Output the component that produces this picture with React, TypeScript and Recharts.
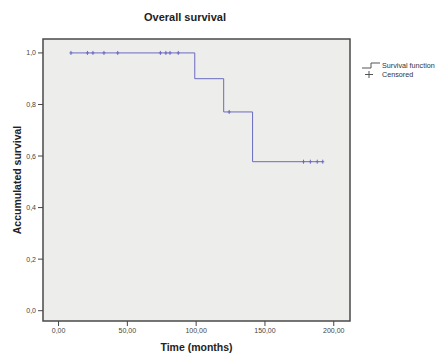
import React from 'react';
import {
  ComposedChart,
  Line,
  Scatter,
  XAxis,
  YAxis,
  ReferenceArea,
  Label,
} from 'recharts';

// Kaplan-Meier steps (time in months, accumulated survival)
const survTimes = [9, 99, 120, 141, 192];
const survValues = [1, 0.9, 0.771, 0.578, 0.578];

// censored cases
const censorTimes = [9, 21, 25, 33, 43, 74, 78, 81, 87, 124, 178, 183, 188, 192];
const censorValues = [1, 1, 1, 1, 1, 1, 1, 1, 1, 0.771, 0.578, 0.578, 0.578, 0.578];

const xTicks = [0, 50, 100, 150, 200];
const yTicks = [0, 0.2, 0.4, 0.6, 0.8, 1.0];

const X_DOMAIN: [number, number] = [-11.3, 211.8];
const Y_DOMAIN: [number, number] = [-0.04, 1.054];

const LINE_COLOR = '#6b6bc0';
const FONT = '"Liberation Sans", Arial, sans-serif';

const survData = survTimes.map((t, i) => ({ t, s: survValues[i] }));
const censorData = censorTimes.map((t, i) => ({ t, s: censorValues[i] }));

const fmt = (v: number, d: number) => v.toFixed(d).replace('.', ',');

function CensorMark(props: any) {
  const { cx, cy } = props;
  if (cx == null || cy == null) return null;
  return (
    <g stroke={LINE_COLOR} strokeWidth={1}>
      <line x1={cx} x2={cx} y1={cy - 2} y2={cy + 2} />
      <line x1={cx - 1.5} x2={cx + 1.5} y1={cy} y2={cy} />
    </g>
  );
}

export default function App() {
  const tick = { fontSize: 7, fill: '#444', fontFamily: FONT };
  return (
    <div
      style={{
        position: 'absolute',
        left: 0,
        top: 0,
        width: 440,
        height: 355,
        background: '#fff',
        fontFamily: FONT,
        overflow: 'hidden',
      }}
    >
      <div
        style={{
          position: 'absolute',
          left: 0,
          width: 370,
          top: 11,
          textAlign: 'center',
          fontWeight: 'bold',
          fontSize: 11,
          color: '#222',
        }}
      >
        Overall survival
      </div>
      <ComposedChart
        width={440}
        height={355}
        margin={{ top: 39, right: 90, bottom: 0, left: 0 }}
      >
        <XAxis
          type="number"
          dataKey="t"
          domain={X_DOMAIN}
          ticks={xTicks}
          allowDataOverflow
          tickFormatter={(v) => fmt(v, 2)}
          tick={tick}
          tickSize={5}
          tickLine={{ stroke: '#444' }}
          axisLine={false}
          height={34}
          interval={0}
        >
          <Label
            value="Time (months)"
            position="insideBottom"
            offset={4}
            style={{ fontSize: 10.5, fontWeight: 'bold', fill: '#222', fontFamily: FONT }}
          />
        </XAxis>
        <YAxis
          type="number"
          dataKey="s"
          domain={Y_DOMAIN}
          ticks={yTicks}
          allowDataOverflow
          tickFormatter={(v) => fmt(v, 1)}
          tick={tick}
          tickSize={5}
          tickLine={{ stroke: '#444' }}
          axisLine={false}
          width={43}
          interval={0}
        >
          <Label
            value="Accumulated survival"
            angle={-90}
            position="insideLeft"
            offset={17}
            style={{
              fontSize: 10.5,
              fontWeight: 'bold',
              fill: '#222',
              fontFamily: FONT,
              textAnchor: 'middle',
            }}
          />
        </YAxis>
        <ReferenceArea
          x1={X_DOMAIN[0]}
          x2={X_DOMAIN[1]}
          y1={Y_DOMAIN[0]}
          y2={Y_DOMAIN[1]}
          fill="#ededeb"
          fillOpacity={1}
          stroke="#4a4a4a"
          strokeWidth={1.5}
          ifOverflow="visible"
        />
        <Line
          data={survData}
          dataKey="s"
          type="stepAfter"
          stroke={LINE_COLOR}
          strokeWidth={1}
          dot={false}
          isAnimationActive={false}
        />
        <Scatter
          data={censorData}
          dataKey="s"
          shape={<CensorMark />}
          isAnimationActive={false}
        />
      </ComposedChart>
      <div
        style={{
          position: 'absolute',
          left: 362,
          top: 61,
          fontSize: 7.2,
          color: '#333',
          lineHeight: '9px',
          whiteSpace: 'nowrap',
        }}
      >
        <div style={{ display: 'flex', alignItems: 'center' }}>
          <svg width={20} height={9}>
            <polyline points="0,7 9,7 9,2 18,2" fill="none" stroke="#555" strokeWidth={1} />
          </svg>
          <span>Survival function</span>
        </div>
        <div style={{ display: 'flex', alignItems: 'center' }}>
          <svg width={20} height={9}>
            <line x1={7} x2={7} y1={1} y2={8} stroke="#555" />
            <line x1={3} x2={11} y1={4.5} y2={4.5} stroke="#555" />
          </svg>
          <span>Censored</span>
        </div>
      </div>
    </div>
  );
}
